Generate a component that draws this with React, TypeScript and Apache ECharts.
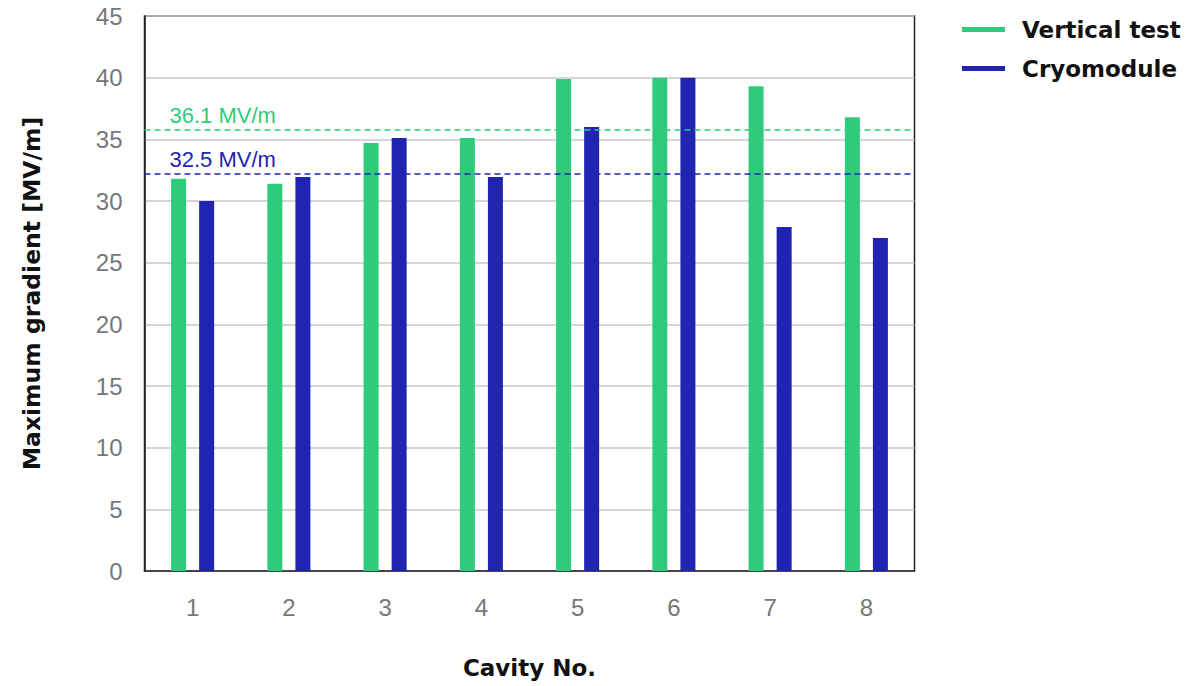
import React, { useEffect, useRef } from "react";
import * as echarts from "echarts";

const categories = ["1", "2", "3", "4", "5", "6", "7", "8"];
const verticalTest = [31.8, 31.4, 34.7, 35.1, 39.9, 40.0, 39.3, 36.8];
const cryomodule = [30.0, 31.95, 35.1, 31.95, 36.0, 40.0, 27.9, 27.0];
const avgLines = [
  { value: 35.8, label: "36.1 MV/m", color: "#2ecc7a" },
  { value: 32.25, label: "32.5 MV/m", color: "#2024b0" },
];

const GREEN = "#2ecc7a";
const BLUE = "#2024b0";
const FONT = "Liberation Sans";
const BOLD_FONT = "DejaVu Sans";

export default function App() {
  const ref = useRef<HTMLDivElement>(null);
  useEffect(() => {
    if (!ref.current) return;
    const chart = echarts.init(ref.current, null, { renderer: "svg" });
    chart.setOption({
      animation: false,
      textStyle: { fontFamily: FONT },
      grid: {
        left: 144.5,
        top: 16,
        width: 770,
        height: 555,
        show: true,
        borderColor: "#222",
        borderWidth: 1.5,
        outerBoundsMode: "none",
        containLabel: false,
      },
      legend: {
        left: 957,
        top: 13,
        orient: "vertical",
        itemGap: 16,
        itemWidth: 43,
        itemHeight: 24,
        icon: "path://M0,9.5 L43,9.5 L43,14.5 L0,14.5 Z",
        textStyle: {
          fontSize: 23,
          fontWeight: "bold",
          color: "#111",
          fontFamily: BOLD_FONT,
          padding: [0, 0, 0, 12],
        },
        data: [
          { name: "Vertical test", itemStyle: { color: GREEN } },
          { name: "Cryomodule", itemStyle: { color: BLUE } },
        ],
      },
      xAxis: {
        type: "category",
        data: categories,
        name: "Cavity No.",
        nameLocation: "middle",
        nameGap: 85,
        nameTextStyle: { fontSize: 23, fontWeight: "bold", color: "#111", fontFamily: BOLD_FONT },
        axisLine: { lineStyle: { color: "#222", width: 1.5 } },
        axisTick: { show: false },
        axisLabel: { fontSize: 24, color: "#777", margin: 24, fontFamily: FONT },
      },
      yAxis: {
        type: "value",
        min: 0,
        max: 45,
        interval: 5,
        name: "Maximum gradient [MV/m]",
        nameLocation: "middle",
        nameGap: 101,
        nameTextStyle: { fontSize: 23.5, fontWeight: "bold", color: "#111", fontFamily: BOLD_FONT },
        axisLine: { show: true, lineStyle: { color: "#222", width: 1.5 } },
        axisTick: { show: false },
        axisLabel: { fontSize: 24, color: "#777", margin: 22, fontFamily: FONT },
        splitLine: { lineStyle: { color: "#c8c8c8", width: 1.5 } },
      },
      series: [
        {
          name: "Vertical test",
          type: "bar",
          data: verticalTest,
          barWidth: 15,
          barGap: "87%",
          itemStyle: { color: GREEN },
          markLine: {
            symbol: "none",
            silent: true,
            data: avgLines.map((l) => ({
              yAxis: l.value,
              lineStyle: { color: l.color, type: [6, 4], width: 1.5 },
              label: {
                show: true,
                position: "insideStartTop",
                formatter: l.label,
                color: l.color,
                fontSize: 22,
                fontFamily: FONT,
                distance: [25, 3],
              },
            })),
          },
        },
        {
          name: "Cryomodule",
          type: "bar",
          data: cryomodule,
          barWidth: 15,
          itemStyle: { color: BLUE },
        },
      ],
    });
    return () => chart.dispose();
  }, []);
  return (
    <div
      ref={ref}
      style={{ position: "absolute", left: 0, top: 0, width: 1192, height: 686 }}
    />
  );
}
